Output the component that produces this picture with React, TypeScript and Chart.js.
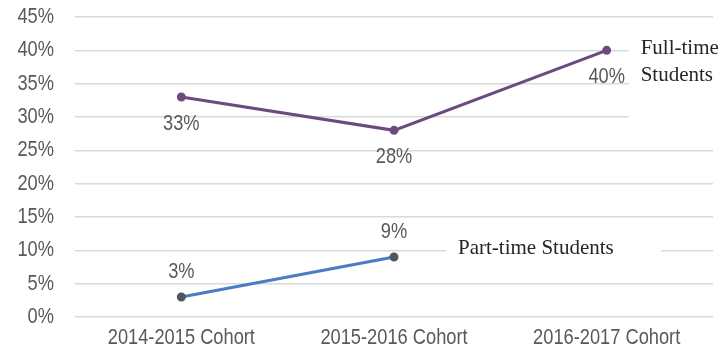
import React, { useEffect, useRef } from "react";
import { Chart, registerables } from "chart.js";

Chart.register(...registerables);

const categories = ["2014-2015 Cohort", "2015-2016 Cohort", "2016-2017 Cohort"];
const fullTime = [33, 28, 40];
const partTime: (number | null)[] = [3, 9, null];
const fullTimeLabel = ["Full-time", "Students"];
const partTimeLabel = "Part-time Students";

const SANS = "22px 'Liberation Sans', Arial, sans-serif";
const SERIF = "21px 'Liberation Serif', 'DejaVu Serif', serif";
const GRAY = "#595959";
const SX = 0.83;

function drawText(ctx: CanvasRenderingContext2D, text: string, x: number, y: number, align: CanvasTextAlign, font: string, color: string, sx = SX) {
  ctx.save();
  ctx.translate(x, y);
  ctx.scale(sx, 1);
  ctx.font = font;
  ctx.fillStyle = color;
  ctx.textAlign = align;
  ctx.textBaseline = "middle";
  ctx.fillText(text, 0, 0);
  ctx.restore();
}

const textPlugin = {
  id: "customText",
  beforeDatasetsDraw(chart: any) {
    const ctx = chart.ctx as CanvasRenderingContext2D;
    const ft = chart.getDatasetMeta(0).data;
    const pt = chart.getDatasetMeta(1).data;
    const lastF = ft[ft.length - 1];
    const lastP = pt[1];
    ctx.save();
    ctx.fillStyle = "#ffffff";
    // label backgrounds hide gridlines
    ctx.fillRect(lastF.x + 22, lastF.y - 10, 90, 85);
    ctx.fillRect(lastP.x + 52, lastP.y - 22, 215, 26);
    ctx.restore();
  },
  afterDraw(chart: any) {
    const ctx = chart.ctx as CanvasRenderingContext2D;
    const area = chart.chartArea;
    const y = chart.scales.y;
    const x = chart.scales.x;
    y.ticks.forEach((t: any) => {
      drawText(ctx, t.value + "%", area.left - 21, y.getPixelForValue(t.value), "right", SANS, GRAY);
    });
    categories.forEach((c, i) => {
      drawText(ctx, c, x.getPixelForValue(i), area.bottom + 21, "center", SANS, GRAY);
    });
    const ft = chart.getDatasetMeta(0).data;
    fullTime.forEach((v, i) => {
      const p = ft[i];
      drawText(ctx, v + "%", p.x, p.y + 27, "center", SANS, GRAY);
    });
    const pt = chart.getDatasetMeta(1).data;
    partTime.forEach((v, i) => {
      if (v === null) return;
      const p = pt[i];
      drawText(ctx, v + "%", p.x, p.y - 25, "center", SANS, GRAY);
    });
    const lastF = ft[ft.length - 1];
    drawText(ctx, fullTimeLabel[0], lastF.x + 34, lastF.y - 2, "left", SERIF, "#262626", 1);
    drawText(ctx, fullTimeLabel[1], lastF.x + 34, lastF.y + 25, "left", SERIF, "#262626", 1);
    const lastP = pt[1];
    drawText(ctx, partTimeLabel, lastP.x + 64, lastP.y - 9, "left", SERIF, "#262626", 1);
  },
};

export default function App() {
  const ref = useRef<HTMLCanvasElement>(null);
  useEffect(() => {
    document.body.style.margin = "0";
    const chart = new Chart(ref.current!, {
      type: "line",
      data: {
        labels: categories,
        datasets: [
          {
            label: "Full-time Students",
            data: fullTime,
            borderColor: "#6C4A7E",
            backgroundColor: "#6C4A7E",
            pointBackgroundColor: "#6C4A7E",
            pointBorderColor: "#6C4A7E",
            borderWidth: 3,
            pointRadius: 3,
            tension: 0,
          },
          {
            label: "Part-time Students",
            data: partTime,
            borderColor: "#4A7CC4",
            backgroundColor: "#4A7CC4",
            pointBackgroundColor: "#50565F",
            pointBorderColor: "#50565F",
            borderWidth: 3,
            pointRadius: 3,
            tension: 0,
          },
        ],
      },
      options: {
        animation: false,
        responsive: true,
        maintainAspectRatio: false,
        layout: { padding: { left: 75, right: 12, top: 17, bottom: 33 } },
        plugins: { legend: { display: false }, tooltip: { enabled: false } },
        scales: {
          x: {
            offset: true,
            grid: { display: false, drawTicks: false },
            border: { display: false },
            ticks: { display: false },
          },
          y: {
            min: 0,
            max: 45,
            ticks: { display: false, stepSize: 5 },
            grid: { color: "#D9D9D9", lineWidth: 1.5, drawTicks: false },
            border: { display: false },
          },
        },
      },
      plugins: [textPlugin],
    });
    return () => chart.destroy();
  }, []);
  return (
    <div style={{ width: 725, height: 350, position: "relative" }}>
      <canvas ref={ref} />
    </div>
  );
}
